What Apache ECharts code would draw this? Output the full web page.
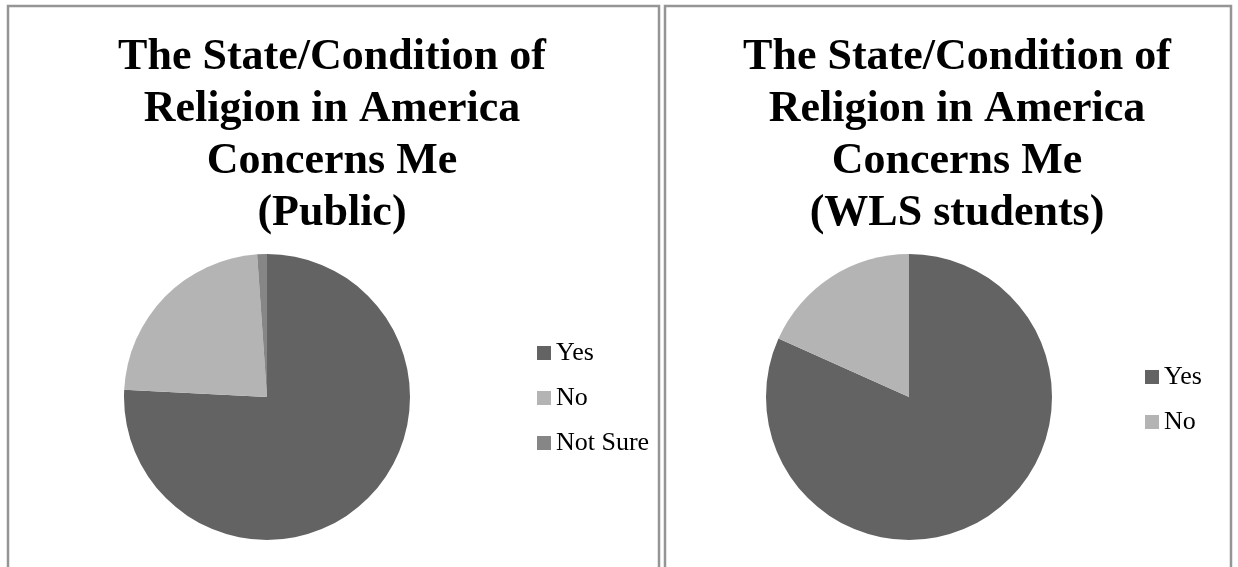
<!DOCTYPE html>
<html>
<head>
<meta charset="utf-8">
<script src="https://cdn.jsdelivr.net/npm/echarts@6/dist/echarts.min.js"></script>
<style>
  html, body { margin: 0; padding: 0; background: #fff; }
  #chart { width: 1238px; height: 567px; }
</style>
</head>
<body>
<div id="chart"></div>
<script>
// Survey answers, in percent
const publicCategories = ['Yes', 'No', 'Not Sure'];
const publicValues = [75.8, 23.1, 1.1];

const studentCategories = ['Yes', 'No'];
const studentValues = [81.7, 18.3];

const publicTitle = 'The State/Condition of\nReligion in America\nConcerns Me\n(Public)';
const studentTitle = 'The State/Condition of\nReligion in America\nConcerns Me\n(WLS students)';

const sliceColors = {
  'Yes': '#636363',
  'No': '#b4b4b4',
  'Not Sure': '#868686'
};

function toData(names, values) {
  return names.map((n, i) => ({
    name: n,
    value: values[i],
    itemStyle: { color: sliceColors[n] }
  }));
}

const serif = '"Liberation Serif", "Times New Roman", serif';

const titleStyle = {
  fontFamily: serif,
  fontWeight: 'bold',
  fontSize: 44,
  lineHeight: 52,
  color: '#000'
};

const legendBase = {
  orient: 'vertical',
  icon: 'rect',
  itemWidth: 14,
  itemHeight: 14,
  itemGap: 19,
  padding: 0,
  textStyle: { fontFamily: serif, fontSize: 26, lineHeight: 26, color: '#000' }
};

const chart = echarts.init(document.getElementById('chart'), null, { renderer: 'canvas' });

chart.setOption({
  animation: false,
  backgroundColor: '#fff',
  graphic: [
    {
      type: 'rect',
      shape: { x: 8, y: 6, width: 651, height: 620 },
      style: { fill: 'none', stroke: '#959595', lineWidth: 2.5 },
      silent: true
    },
    {
      type: 'rect',
      shape: { x: 665, y: 6, width: 566, height: 620 },
      style: { fill: 'none', stroke: '#959595', lineWidth: 2.5 },
      silent: true
    }
  ],
  title: [
    {
      text: publicTitle,
      left: 332,
      top: 32,
      padding: 0,
      textAlign: 'center',
      textStyle: titleStyle
    },
    {
      text: studentTitle,
      left: 957,
      top: 32,
      padding: 0,
      textAlign: 'center',
      textStyle: titleStyle
    }
  ],
  legend: [
    Object.assign({}, legendBase, { left: 537, top: 340, data: publicCategories }),
    Object.assign({}, legendBase, { left: 1145, top: 364, data: studentCategories })
  ],
  series: [
    {
      type: 'pie',
      name: 'Public',
      center: [267, 397],
      radius: 143,
      startAngle: 90,
      clockwise: true,
      label: { show: false },
      labelLine: { show: false },
      itemStyle: { borderWidth: 0 },
      emphasis: { disabled: true },
      data: toData(publicCategories, publicValues)
    },
    {
      type: 'pie',
      name: 'WLS students',
      center: [909, 397],
      radius: 143,
      startAngle: 90,
      clockwise: true,
      label: { show: false },
      labelLine: { show: false },
      itemStyle: { borderWidth: 0 },
      emphasis: { disabled: true },
      data: toData(studentCategories, studentValues)
    }
  ]
});
</script>
</body>
</html>
